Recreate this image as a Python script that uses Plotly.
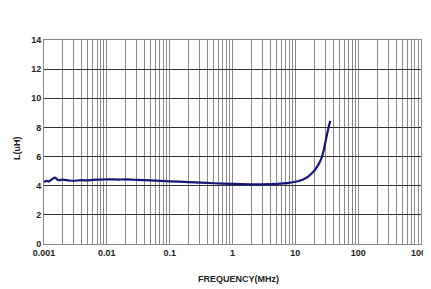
import plotly.graph_objects as go

freq_mhz = [0.001, 0.0011, 0.0012, 0.0013, 0.0014, 0.0015, 0.0017, 0.002, 0.0025, 0.003,
            0.004, 0.005, 0.006, 0.008, 0.01, 0.015, 0.02, 0.03, 0.05, 0.1,
            0.2, 0.5, 1, 2, 3, 5, 8, 10, 12, 14,
            16, 18, 20, 22, 24, 26, 28, 30, 32, 34, 36]
inductance_uh = [4.25, 4.33, 4.30, 4.40, 4.50, 4.55, 4.38, 4.42, 4.36, 4.34,
                 4.38, 4.36, 4.40, 4.42, 4.44, 4.42, 4.43, 4.40, 4.36, 4.30,
                 4.25, 4.17, 4.12, 4.09, 4.09, 4.13, 4.20, 4.27, 4.36, 4.48,
                 4.63, 4.82, 5.03, 5.28, 5.55, 5.88, 6.35, 6.95, 7.55, 8.05, 8.45]

x_tickvals = [0.001, 0.01, 0.1, 1, 10, 100, 1000]
x_ticktext = ["<b>0.001</b>", "<b>0.01</b>", "<b>0.1</b>", "<b>1</b>", "<b>10</b>", "<b>100</b>", "<b>1000</b>"]
y_tickvals = [0, 2, 4, 6, 8, 10, 12, 14]
y_ticktext = ["<b>%d</b>" % v for v in y_tickvals]
x_title = "FREQUENCY(MHz)"
y_title = "L(uH)"

fig = go.Figure()
fig.add_trace(go.Scatter(
    x=freq_mhz, y=inductance_uh, mode="lines",
    line=dict(color="#16167a", width=2.2, shape="spline", smoothing=0.8),
    showlegend=False, hoverinfo="skip"))

font = "Liberation Sans, Arial, sans-serif"
# page body has an 8px default margin, so offsets are compensated here
fig.update_layout(
    width=431, height=289,
    margin=dict(l=36, r=18, t=32, b=53),
    paper_bgcolor="white", plot_bgcolor="white",
    font=dict(family=font, color="#222"),
    xaxis=dict(
        type="log", range=[-3, 3], automargin=False,
        tickvals=x_tickvals, ticktext=x_ticktext, ticklabeloverflow="allow",
        tickfont=dict(size=9, family=font, color="#222"),
        showgrid=True, gridcolor="#8a8a8a", gridwidth=1,
        minor=dict(showgrid=True, gridcolor="#8a8a8a", gridwidth=1, dtick="D1"),
        showline=True, linecolor="#8a8a8a", mirror=True,
        ticks="", ticklen=0, zeroline=False,
    ),
    yaxis=dict(
        range=[0, 14], tickvals=y_tickvals, ticktext=y_ticktext, automargin=False,
        tickfont=dict(size=9, family=font, color="#222"),
        showgrid=True, gridcolor="#333", gridwidth=1,
        showline=True, linecolor="#8a8a8a", mirror=True,
        ticks="", zeroline=False,
    ),
    annotations=[
        dict(text="<b>%s</b>" % x_title, xref="paper", yref="paper", x=0.515, y=-0.135,
             xanchor="center", yanchor="top", showarrow=False,
             font=dict(size=9, family=font, color="#222")),
        dict(text="<b>%s</b>" % y_title, xref="paper", yref="paper", x=-0.072, y=0.47,
             xanchor="center", yanchor="middle", textangle=-90, showarrow=False,
             font=dict(size=9, family=font, color="#222")),
    ],
)

fig.write_html("out.html")
